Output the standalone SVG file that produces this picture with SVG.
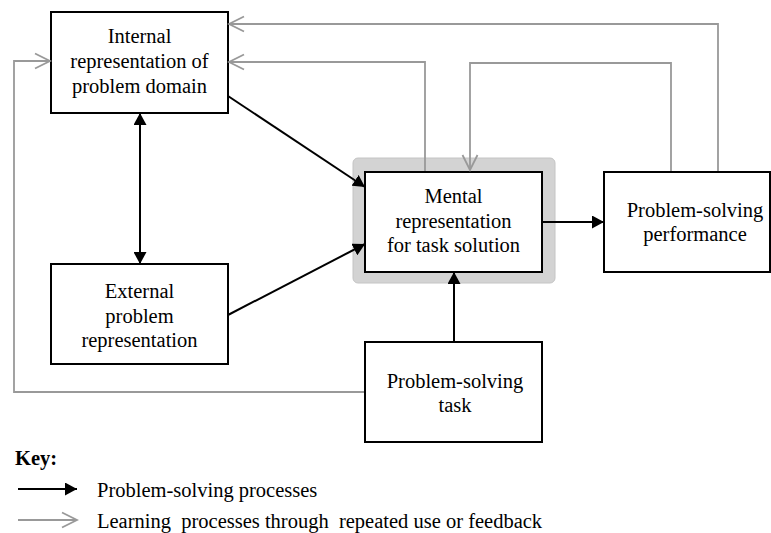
<svg xmlns="http://www.w3.org/2000/svg" width="771" height="533" viewBox="0 0 771 533">
<style>
.box{fill:#fff;stroke:#000;stroke-width:2}
.t{font-family:"Liberation Serif","Times New Roman",serif;font-size:20.5px;fill:#000;text-anchor:middle}
.k{font-family:"Liberation Serif","Times New Roman",serif;font-size:20.5px;fill:#000}
.b{fill:none;stroke:#000;stroke-width:2}
.g{fill:none;stroke:#999;stroke-width:1.8}
</style>
<defs>
<marker id="ab" markerUnits="userSpaceOnUse" viewBox="0 0 12 13" markerWidth="12" markerHeight="13" refX="12" refY="6.5" orient="auto-start-reverse">
<path d="M0,0 L12,6.5 L0,13 z" fill="#000"/>
</marker>
<marker id="ag" markerUnits="userSpaceOnUse" viewBox="-2 -2 19 19" markerWidth="19" markerHeight="19" refX="15" refY="7.5" orient="auto">
<path d="M0,0 L15,7.5 L0,15" fill="none" stroke="#999" stroke-width="1.8"/>
</marker>
</defs>
<rect x="0" y="0" width="771" height="533" fill="#fff"/>
<g id="internal">
<rect class="box" x="51" y="12" width="177" height="101"/>
<text class="t" x="139.5" y="43">Internal</text>
<text class="t" x="139.5" y="68">representation of</text>
<text class="t" x="139.5" y="92.5">problem domain</text>
</g>
<g id="external">
<rect class="box" x="51" y="264" width="177" height="100"/>
<text class="t" x="139.5" y="298">External</text>
<text class="t" x="139.5" y="322.5">problem</text>
<text class="t" x="139.5" y="346.5">representation</text>
</g>
<g id="mental">
<rect x="353" y="158" width="202" height="125" rx="5" fill="#d3d3d3" stroke="#c4c4c4" stroke-width="1"/>
<rect class="box" x="365" y="172" width="177" height="100"/>
<text class="t" x="453.5" y="203">Mental</text>
<text class="t" x="453.5" y="228">representation</text>
<text class="t" x="453.5" y="252">for task solution</text>
</g>
<g id="performance">
<rect class="box" x="604" y="172" width="166" height="100"/>
<text class="t" x="695" y="216.5">Problem-solving</text>
<text class="t" x="695" y="240.5">performance</text>
</g>
<g id="task">
<rect class="box" x="365" y="342" width="177" height="100"/>
<text class="t" x="455" y="388">Problem-solving</text>
<text class="t" x="455" y="412">task</text>
</g>
<g id="connectors">
<polyline class="g" points="718,171 718,24 229,24" marker-end="url(#ag)"/>
<polyline class="g" points="425,171 425,62 229,62" marker-end="url(#ag)"/>
<polyline class="g" points="671,171 671,63 470,63 470,170" marker-end="url(#ag)"/>
<polyline class="g" points="364,392 14,392 14,61 50,61" marker-end="url(#ag)"/>
<line class="b" x1="228" y1="96" x2="365" y2="187" marker-end="url(#ab)"/>
<line class="b" x1="228" y1="315" x2="365" y2="244" marker-end="url(#ab)"/>
<line class="b" x1="140" y1="113" x2="140" y2="264" marker-start="url(#ab)" marker-end="url(#ab)"/>
<line class="b" x1="454" y1="341" x2="454" y2="272" marker-end="url(#ab)"/>
<line class="b" x1="542" y1="222" x2="604" y2="222" marker-end="url(#ab)"/>
</g>
<g id="key">
<text class="k" x="15" y="465" font-weight="bold">Key:</text>
<line class="b" x1="18" y1="489" x2="77" y2="489" marker-end="url(#ab)"/>
<text class="k" x="97" y="497">Problem-solving processes</text>
<polyline class="g" points="18,520 77,520" marker-end="url(#ag)"/>
<text class="k" x="97" y="528" xml:space="preserve">Learning  processes through  repeated use or feedback</text>
</g>
</svg>
